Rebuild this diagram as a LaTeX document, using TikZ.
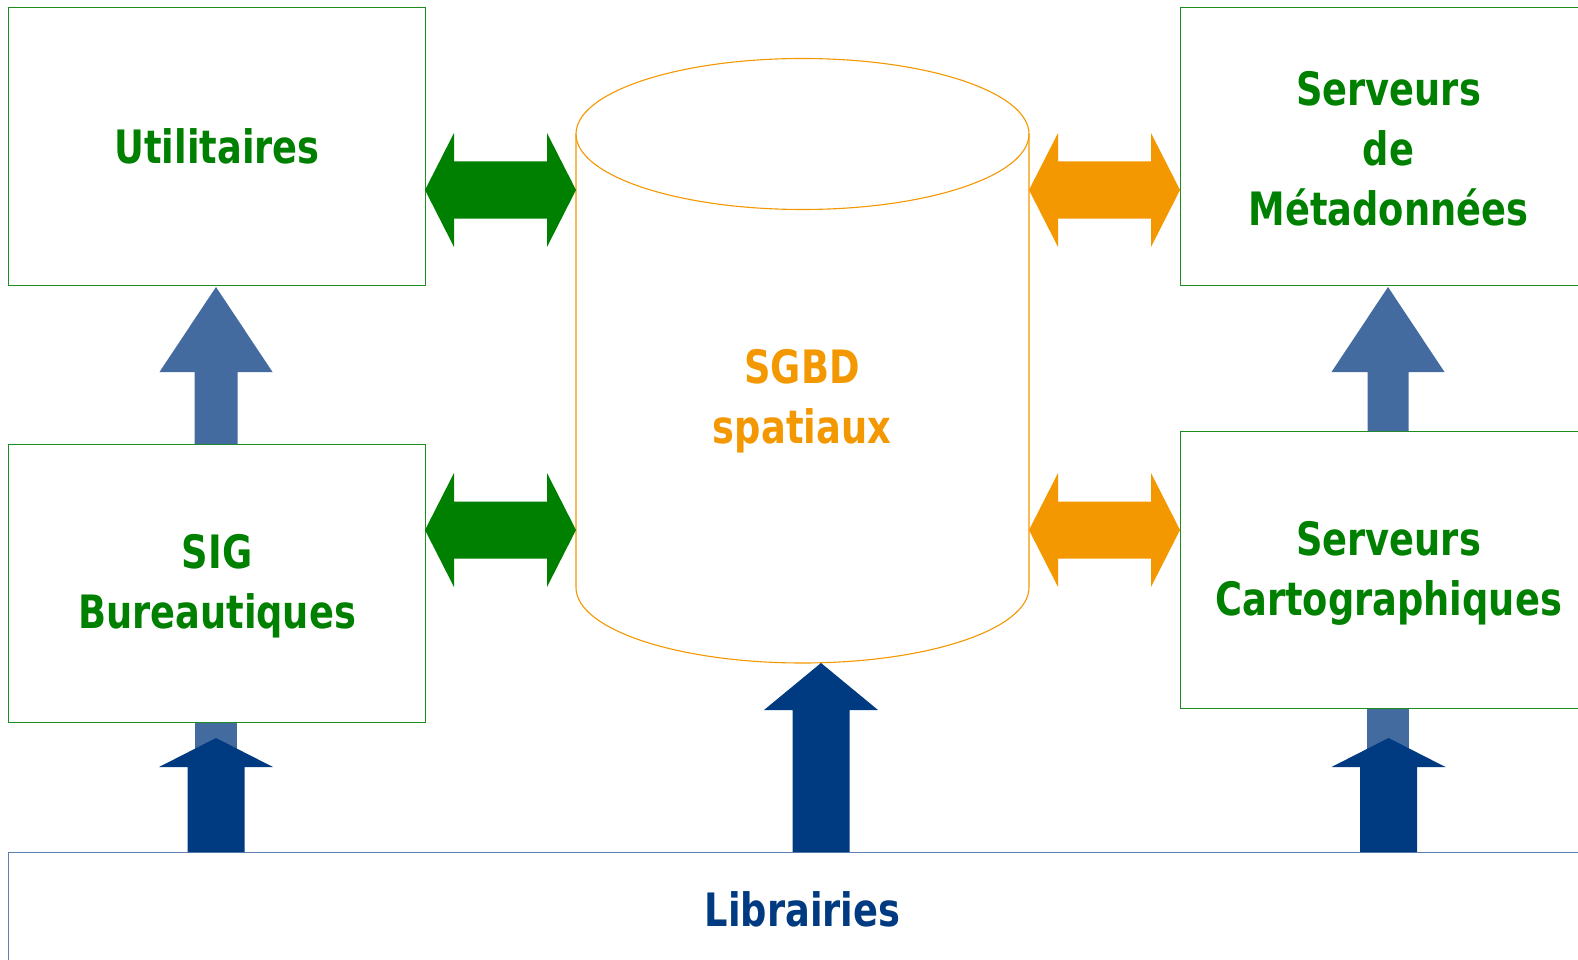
\documentclass[tikz,border=0pt]{standalone}
\usepackage{fontspec}
\setmainfont[FakeStretch=0.8]{DejaVu Sans}
\definecolor{tgreen}{HTML}{008000}
\definecolor{bgreen}{HTML}{1E8C1E}
\definecolor{torange}{HTML}{F39800}
\definecolor{steel}{HTML}{436B9F}
\definecolor{dblue}{HTML}{003A80}
\definecolor{lbord}{HTML}{5D80B0}
\newcommand\dblarrowshape[4]{% xl, xr, yc, colour
  \fill[#4] (#1,#3) -- ({#1+29},{#3-57}) -- ({#1+29},{#3-28.5}) -- ({#2-29},{#3-28.5}) -- ({#2-29},{#3-57}) -- (#2,#3)
    -- ({#2-29},{#3+57}) -- ({#2-29},{#3+28.5}) -- ({#1+29},{#3+28.5}) -- ({#1+29},{#3+57}) -- cycle;}
\newcommand\uparrowshape[7]{% xc, ytip, ybase, ybottom, headhalf, shafthalf, colour
  \fill[#7] (#1,#2) -- ({#1+#5},#3) -- ({#1+#6},#3) -- ({#1+#6},#4) -- ({#1-#6},#4) -- ({#1-#6},#3) -- ({#1-#5},#3) -- cycle;}
\begin{document}
\begin{tikzpicture}[x=1pt,y=-1pt,
  box/.style={draw=bgreen, line width=1.1pt, fill=white, anchor=north west, inner sep=0pt},
  lbl/.style={align=center, font=\fontsize{46}{60}\selectfont\bfseries, inner sep=0pt},
  libbox/.style={draw=lbord, line width=1.2pt, fill=white, text=dblue, anchor=north west,
    font=\fontsize{46}{60}\selectfont\bfseries, inner sep=0pt}]
\useasboundingbox (0,0) rectangle (1578,960);
\clip (0,0) rectangle (1578,960);
% Librairies
\node[libbox, minimum width=1588pt, minimum height=114pt] (lib) at (8,852) {Librairies};
% steel stubs
\fill[steel] (195,720) rectangle (237,760);
\fill[steel] (1367,706) rectangle (1409,760);
% boxes
\node[box, minimum width=417pt, minimum height=278pt] (util) at (8,7) {};
\node[box, minimum width=417pt, minimum height=278pt] (sig) at (8,444) {};
\node[box, minimum width=416pt, minimum height=278pt] (meta) at (1180,7) {};
\node[box, minimum width=416pt, minimum height=277pt] (carto) at (1180,431) {};
\node[lbl, text=tgreen] (utilt) at (util.center) {Utilitaires};
\node[lbl, text=tgreen, yshift=-3pt] (sigt) at (sig.center) {SIG\\Bureautiques};
\node[lbl, text=tgreen, yshift=-2pt] (metat) at (meta.center) {Serveurs\\de\\Métadonnées};
\node[lbl, text=tgreen, yshift=-3pt] (cartot) at (carto.center) {Serveurs\\Cartographiques};
% cylinder
\filldraw[draw=torange, line width=1.1pt, fill=white] (576,134) -- (576,587.5)
  arc[start angle=180, end angle=360, x radius=226.5pt, y radius=75.5pt] -- (1029,134);
\draw[torange, line width=1.1pt] (802.5,134) ellipse[x radius=226.5pt, y radius=75.5pt];
\node[lbl, text=torange] (sgbd) at (802,401) {SGBD\\spatiaux};
% double arrows
\dblarrowshape{425}{576}{190}{tgreen}
\dblarrowshape{425}{576}{530}{tgreen}
\dblarrowshape{1029}{1180}{190}{torange}
\dblarrowshape{1029}{1180}{530}{torange}
% steel up arrows
\uparrowshape{216}{287}{372}{444}{56.5}{21.5}{steel}
\uparrowshape{1388}{287}{372}{431}{56.5}{20.5}{steel}
% dark up arrows
\uparrowshape{216}{738}{767}{852}{57}{28.5}{dblue}
\uparrowshape{1388.5}{738}{767}{852}{57}{28.5}{dblue}
\uparrowshape{821}{663}{710}{852}{57}{28.5}{dblue}
\end{tikzpicture}
\end{document}
